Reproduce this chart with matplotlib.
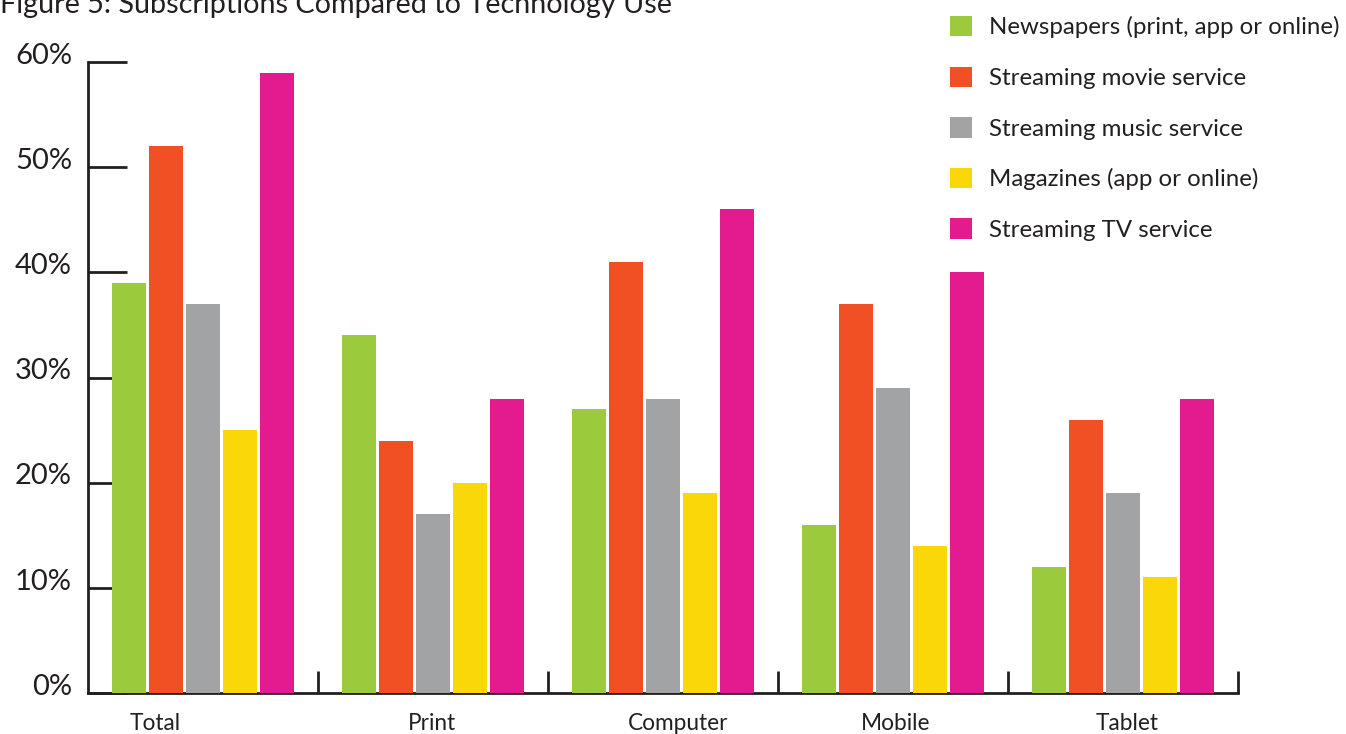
import matplotlib
matplotlib.use("Agg")
import matplotlib.pyplot as plt
from matplotlib.patches import Patch
import numpy as np

plt.rcParams['font.family'] = ['Lato', 'DejaVu Sans']

categories = ["Total", "Print", "Computer", "Mobile", "Tablet"]
series_names = ["Newspapers (print, app or online)", "Streaming movie service",
                "Streaming music service", "Magazines (app or online)",
                "Streaming TV service"]
newspapers = [39, 34, 27, 16, 12]
movie = [52, 24, 41, 37, 26]
music = [37, 17, 28, 29, 19]
magazines = [25, 20, 19, 14, 11]
tv = [59, 28, 46, 40, 28]
colors = ["#9BCA3C", "#F15025", "#A2A3A5", "#F9D708", "#E31B8E"]
yticks = [0, 10, 20, 30, 40, 50, 60]
ytick_labels = ["0%", "10%", "20%", "30%", "40%", "50%", "60%"]

series = [newspapers, movie, music, magazines, tv]
text_color = "#231F20"

W, H = 1346, 734
fig = plt.figure(figsize=(W / 100, H / 100), dpi=100)
ax = fig.add_axes([88 / W, (H - 693) / H, (1238 - 88) / W, (693 - 62) / H])

x = np.arange(len(categories)) + 0.5
offsets = [-0.322, -0.161, 0.0, 0.161, 0.322]
bw = 0.148
handles = []
for s, off, c, name in zip(series, offsets, colors, series_names):
    ax.bar(x + off, s, width=bw, color=c, zorder=3)
    handles.append(Patch(facecolor=c, edgecolor='none', label=name))

ax.set_xlim(0, len(categories))
ax.set_ylim(0, 60)
for sp in ["top", "right"]:
    ax.spines[sp].set_visible(False)
for sp in ["left", "bottom"]:
    ax.spines[sp].set_color(text_color)
    ax.spines[sp].set_linewidth(2)

# y ticks pointing inward, labels drawn separately
ax.set_yticks(yticks)
ax.set_yticklabels([])
ax.tick_params(axis='y', direction='in', length=28, width=2, color=text_color)
for v, lab in zip(yticks, ytick_labels):
    ax.annotate(lab, xy=(0, v), xycoords=ax.get_yaxis_transform(),
                xytext=(-11.5, 4.5), textcoords='offset points',
                ha='right', va='center', fontsize=21, color=text_color)

# x ticks at group boundaries, pointing up
ax.set_xticks(np.arange(1, len(categories) + 1))
ax.set_xticklabels([])
ax.tick_params(axis='x', direction='in', length=16, width=2, color=text_color)

# category labels
label_pos = [0.291, 1.496, 2.565, 3.513, 4.517]
for p, name in zip(label_pos, categories):
    ax.text(p, -0.031, name, transform=ax.get_xaxis_transform(), ha='center',
            va='top', fontsize=16.3, color=text_color)

fig.text(0.0, 1.0 - 13 / H, "Figure 5: Subscriptions Compared to Technology Use",
         ha='left', va='baseline', fontsize=20.7, color=text_color)

fig.legend(handles=handles, loc='upper left', bbox_to_anchor=(950 / W, 1 - 16 / H),
           frameon=False, fontsize=17.3, handlelength=0.93, handleheight=0.93,
           handletextpad=0.68, labelspacing=1.17, labelcolor=text_color,
           borderaxespad=0, borderpad=0)

fig.savefig("out.png", dpi=100)
